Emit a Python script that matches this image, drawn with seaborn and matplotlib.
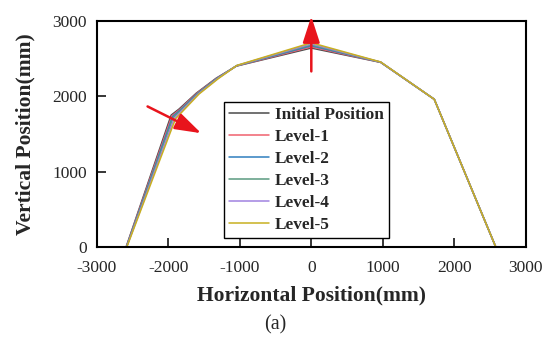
import matplotlib
matplotlib.use("Agg")
import matplotlib.pyplot as plt
import pandas as pd
import seaborn as sns

# vertices of each tunnel section outline (mm)
x_initial = [-2590, -1960, -1850, -1610, -1330, -1050, 0, 970, 1720, 2580]
y_initial = [0, 1750, 1830, 2040, 2240, 2400, 2640, 2450, 1960, 0]
x_level1 = [-2588, -1950, -1840, -1602, -1325, -1048, 0, 970, 1720, 2580]
y_level1 = [0, 1740, 1825, 2038, 2238, 2402, 2655, 2451, 1960, 0]
x_level2 = [-2586, -1940, -1832, -1594, -1320, -1046, 0, 970, 1720, 2580]
y_level2 = [0, 1730, 1820, 2036, 2237, 2404, 2670, 2452, 1960, 0]
x_level3 = [-2584, -1930, -1824, -1586, -1315, -1044, 0, 970, 1720, 2580]
y_level3 = [0, 1720, 1815, 2034, 2236, 2406, 2682, 2453, 1960, 0]
x_level4 = [-2582, -1915, -1812, -1578, -1308, -1042, 0, 970, 1720, 2580]
y_level4 = [0, 1710, 1808, 2032, 2235, 2408, 2695, 2454, 1960, 0]
x_level5 = [-2580, -1900, -1800, -1570, -1300, -1040, 0, 970, 1720, 2580]
y_level5 = [0, 1700, 1800, 2030, 2235, 2410, 2710, 2455, 1960, 0]

series_names = ["Initial Position", "Level-1", "Level-2", "Level-3", "Level-4", "Level-5"]
series_x = [x_initial, x_level1, x_level2, x_level3, x_level4, x_level5]
series_y = [y_initial, y_level1, y_level2, y_level3, y_level4, y_level5]
colors = ["#4a4a4a", "#f0606e", "#2f7fbf", "#5a9a80", "#a082e0", "#c8b020"]

frames = []
for name, xs, ys in zip(series_names, series_x, series_y):
    frames.append(pd.DataFrame({"x": xs, "y": ys, "series": name}))
data = pd.concat(frames, ignore_index=True)

sns.set_style("ticks")
plt.rcParams["font.family"] = ["Liberation Serif", "DejaVu Serif"]
plt.rcParams["axes.unicode_minus"] = False

fig = plt.figure(figsize=(5.5, 3.4), dpi=100)
ax = fig.add_axes([0.176, 0.2735, 0.780, 0.665])

sns.lineplot(data=data, x="x", y="y", hue="series", hue_order=series_names,
             palette=dict(zip(series_names, colors)), sort=False,
             estimator=None, units="series", lw=1.1, ax=ax)

ax.set_xlim(-3000, 3000)
ax.set_ylim(0, 3000)
ax.set_xticks([-3000, -2000, -1000, 0, 1000, 2000, 3000])
ax.set_yticks([0, 1000, 2000, 3000])
ax.tick_params(direction="in", length=6.5, width=1.3, labelsize=12.5)
ax.tick_params(axis="x", pad=9)
ax.tick_params(axis="y", pad=7)
for sp in ax.spines.values():
    sp.set_linewidth(1.5)
    sp.set_color("black")

ax.set_xlabel("Horizontal Position(mm)", fontsize=15.5, fontweight="bold", labelpad=7)
ax.set_ylabel("Vertical Position(mm)", fontsize=15.5, fontweight="bold", labelpad=12)

handles, labels = ax.get_legend_handles_labels()
ax.get_legend().remove()
leg = ax.legend(handles, labels, loc="lower left", bbox_to_anchor=(0.296, 0.04),
                prop={"weight": "bold", "size": 12.4}, frameon=True,
                fancybox=False, edgecolor="black", borderaxespad=0,
                handlelength=2.3, handletextpad=0.35, labelspacing=0.34,
                borderpad=0.3)
leg.get_frame().set_linewidth(1.0)
leg.get_frame().set_alpha(1)

# red arrows marking the deformation direction
ax.annotate("", xy=(0, 3060), xytext=(0, 2330),
            arrowprops=dict(arrowstyle="-|>,head_length=0.8,head_width=0.26",
                            color="#e8141c", lw=1.8, mutation_scale=20,
                            shrinkA=0, shrinkB=0),
            annotation_clip=False)
ax.annotate("", xy=(-1540, 1510), xytext=(-2290, 1865),
            arrowprops=dict(arrowstyle="-|>,head_length=0.8,head_width=0.26",
                            color="#e8141c", lw=1.8, mutation_scale=20,
                            shrinkA=0, shrinkB=0),
            annotation_clip=False)

fig.text(0.5, 0.044, "(a)", ha="center", va="center", fontsize=14.5)

fig.savefig("out.png", dpi=100)
